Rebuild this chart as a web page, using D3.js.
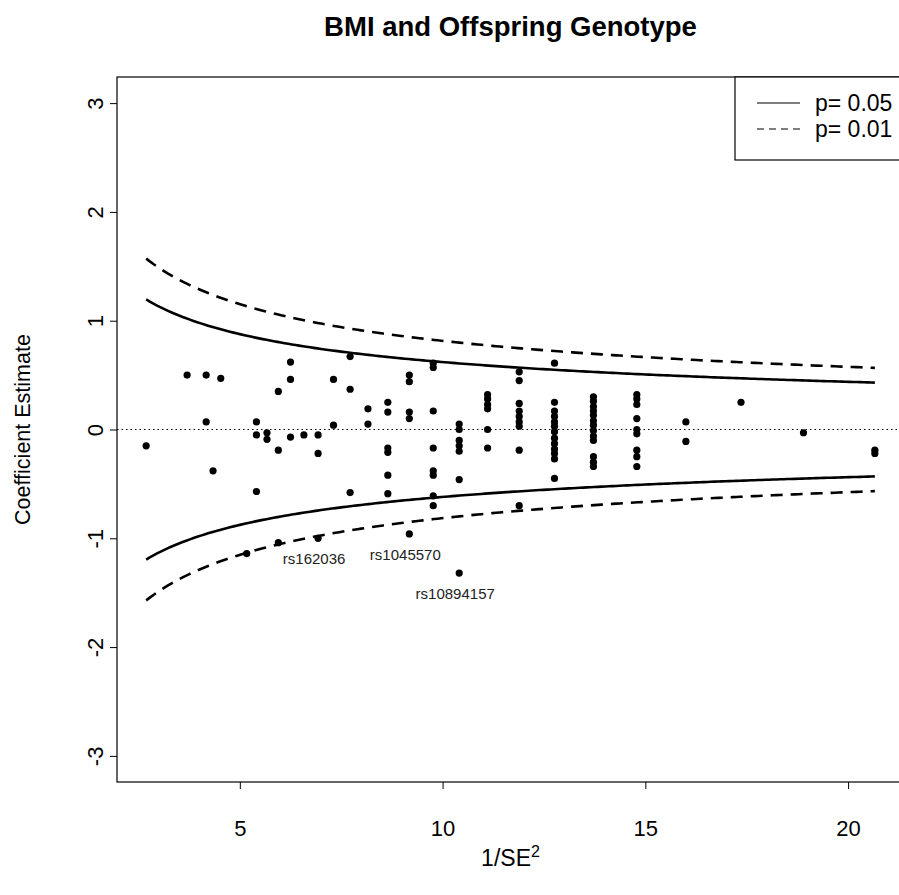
<!DOCTYPE html>
<html>
<head>
<meta charset="utf-8">
<script src="https://cdn.jsdelivr.net/npm/d3@7"></script>
<style>
  html, body { margin: 0; padding: 0; background: #fff; }
  svg { display: block; font-family: "Liberation Sans", Arial, sans-serif; }
</style>
</head>
<body>
<svg id="chart" width="899" height="895"></svg>
<script>
// Precision (1/SE^2) of each SNP's coefficient, and the coefficient itself
const invSE2 = [
  2.69,
  3.70,
  4.17, 4.17,
  4.34,
  4.53,
  5.17,
  5.41, 5.41, 5.41,
  5.67, 5.67,
  5.95, 5.95, 5.95,
  6.25, 6.25, 6.25,
  6.58,
  6.93, 6.93, 6.93,
  7.31, 7.31,
  7.72, 7.72, 7.72,
  8.16, 8.16,
  8.65, 8.65, 8.65, 8.65, 8.65, 8.65,
  9.18, 9.18, 9.18, 9.18, 9.18,
  9.77, 9.77, 9.77, 9.77, 9.77, 9.77, 9.77, 9.77,
  10.41, 10.41, 10.41, 10.41, 10.41, 10.41, 10.41,
  11.11, 11.11, 11.11, 11.11, 11.11, 11.11,
  11.89, 11.89, 11.89, 11.89, 11.89, 11.89, 11.89, 11.89, 11.89,
  12.76, 12.76, 12.76, 12.76, 12.76, 12.76, 12.76, 12.76, 12.76, 12.76, 12.76, 12.76, 12.76,
  13.72, 13.72, 13.72, 13.72, 13.72, 13.72, 13.72, 13.72, 13.72, 13.72, 13.72, 13.72, 13.72,
  14.79, 14.79, 14.79, 14.79, 14.79, 14.79, 14.79, 14.79, 14.79,
  16.00, 16.00,
  17.36,
  18.90,
  20.66, 20.66
];
const estimate = [
  -0.15,
  0.50,
  0.50, 0.07,
  -0.38,
  0.47,
  -1.14,
  0.07, -0.05, -0.57,
  -0.03, -0.09,
  0.35, -0.19, -1.04,
  0.62, 0.46, -0.07,
  -0.05,
  -0.05, -0.22, -1.00,
  0.46, 0.04,
  0.67, 0.37, -0.58,
  0.19, 0.05,
  0.25, 0.16, -0.17, -0.21, -0.42, -0.59,
  0.50, 0.44, 0.16, 0.10, -0.96,
  0.61, 0.57, 0.17, -0.17, -0.38, -0.42, -0.61, -0.70,
  0.05, 0.00, -0.10, -0.15, -0.20, -0.46, -1.32,
  0.32, 0.28, 0.23, 0.19, 0.00, -0.17,
  0.53, 0.45, 0.24, 0.17, 0.12, 0.07, 0.03, -0.19, -0.70,
  0.61, 0.25, 0.17, 0.12, 0.07, 0.03, -0.02, -0.08, -0.13, -0.18, -0.22, -0.27, -0.45,
  0.30, 0.26, 0.21, 0.17, 0.13, 0.08, 0.04, -0.01, -0.06, -0.10, -0.25, -0.30, -0.34,
  0.32, 0.28, 0.23, 0.10, 0.00, -0.04, -0.19, -0.25, -0.34,
  0.07, -0.11,
  0.25,
  -0.03,
  -0.19, -0.22
];

// Annotated SNPs
const labelNames = ["rs162036", "rs1045570", "rs10894157"];
const labelX = [6.93, 9.18, 10.41];
const labelY = [-1.00, -0.96, -1.32];

const xTicks = [5, 10, 15, 20];
const yTicks = [-3, -2, -1, 0, 1, 2, 3];

// Funnel bounds: two-sided critical values for the legend's p levels
const legendLabels = ["p= 0.05", "p= 0.01"];
const zCrit = [1.96, 2.576];
const lineDash = [null, "12,8"];
const legendDash = [null, "7,5"];

const svg = d3.select("#chart");
const plot = { left: 117, right: 904, top: 77, bottom: 782 };

// R-style 4% padding around the data range
const xExt = d3.extent(invSE2);
const xPad = (xExt[1] - xExt[0]) * 0.04;
const x = d3.scaleLinear().domain([xExt[0] - xPad, xExt[1] + xPad]).range([plot.left, plot.right]);
const y = d3.scaleLinear().domain([-3.24, 3.24]).range([plot.bottom, plot.top]);

// Title
svg.append("text")
  .attr("x", (plot.left + plot.right) / 2)
  .attr("y", 36)
  .attr("text-anchor", "middle")
  .attr("font-weight", "bold")
  .attr("font-size", 27.5)
  .text("BMI and Offspring Genotype");

// Zero reference line
svg.append("line")
  .attr("x1", plot.left).attr("x2", plot.right)
  .attr("y1", y(0)).attr("y2", y(0))
  .attr("stroke", "#000").attr("stroke-width", 1)
  .attr("stroke-dasharray", "1.5,3");

// Funnel curves ±z·SE, sampled across the precision range
const xs = d3.range(0, 201).map(i => xExt[0] + (xExt[1] - xExt[0]) * i / 200);
const line = d3.line().x(d => x(d[0])).y(d => y(d[1]));
zCrit.forEach((z, i) => {
  [1, -1].forEach(sign => {
    svg.append("path")
      .datum(xs.map(v => [v, sign * z / Math.sqrt(v)]))
      .attr("d", line)
      .attr("fill", "none")
      .attr("stroke", "#000")
      .attr("stroke-width", 2.6)
      .attr("stroke-dasharray", lineDash[i]);
  });
});

// Points
svg.append("g").selectAll("circle")
  .data(invSE2.map((v, i) => [v, estimate[i]]))
  .join("circle")
  .attr("cx", d => x(d[0]))
  .attr("cy", d => y(d[1]))
  .attr("r", 3.6)
  .attr("fill", "#000");

// SNP labels below their points
svg.append("g").selectAll("text")
  .data(labelNames.map((n, i) => [n, labelX[i], labelY[i]]))
  .join("text")
  .attr("x", d => x(d[1]) - 4)
  .attr("y", d => y(d[2]) + 26)
  .attr("text-anchor", "middle")
  .attr("font-size", 15)
  .attr("fill", "#222")
  .text(d => d[0]);

// Plain hyphen for negative tick labels
const fmt = d => String(d);

// X axis
const gx = svg.append("g")
  .attr("transform", `translate(0,${plot.bottom})`)
  .call(d3.axisBottom(x).tickValues(xTicks).tickSize(7).tickPadding(31).tickFormat(fmt));
gx.select(".domain").remove();
gx.selectAll("line").attr("stroke", "#000");
gx.selectAll("text").attr("font-size", 22).attr("font-family", null).attr("fill", "#000");

// Y axis with vertical tick labels
const gy = svg.append("g")
  .attr("transform", `translate(${plot.left},0)`)
  .call(d3.axisLeft(y).tickValues(yTicks).tickSize(7).tickFormat(fmt));
gy.select(".domain").remove();
gy.selectAll("line").attr("stroke", "#000");
gy.selectAll("text")
  .attr("font-size", 22).attr("font-family", null).attr("fill", "#000")
  .attr("x", 0).attr("y", 0).attr("dy", 0)
  .attr("text-anchor", "middle")
  .attr("transform", "translate(-14,0) rotate(-90)");

// Plot frame
svg.append("rect")
  .attr("x", plot.left).attr("y", plot.top)
  .attr("width", plot.right - plot.left).attr("height", plot.bottom - plot.top)
  .attr("fill", "none").attr("stroke", "#000").attr("stroke-width", 1.2);

// Axis titles
const xt = svg.append("text")
  .attr("x", (plot.left + plot.right) / 2)
  .attr("y", 866)
  .attr("text-anchor", "middle")
  .attr("font-size", 23);
xt.append("tspan").text("1/SE");
xt.append("tspan").attr("font-size", 16).attr("dy", -9).text("2");

svg.append("text")
  .attr("transform", `translate(30,${y(0)}) rotate(-90)`)
  .attr("text-anchor", "middle")
  .attr("font-size", 21.5)
  .text("Coefficient Estimate");

// Legend
const leg = svg.append("g");
leg.append("rect")
  .attr("x", 735).attr("y", plot.top)
  .attr("width", plot.right - 735).attr("height", 83)
  .attr("fill", "#fff").attr("stroke", "#000").attr("stroke-width", 1.2);
legendLabels.forEach((lab, i) => {
  const ly = 103 + i * 26;
  leg.append("line")
    .attr("x1", 757).attr("x2", 800).attr("y1", ly).attr("y2", ly)
    .attr("stroke", "#000").attr("stroke-width", 1.1)
    .attr("stroke-dasharray", legendDash[i]);
  leg.append("text")
    .attr("x", 815).attr("y", ly + 8)
    .attr("font-size", 23)
    .text(lab);
});
</script>
</body>
</html>
